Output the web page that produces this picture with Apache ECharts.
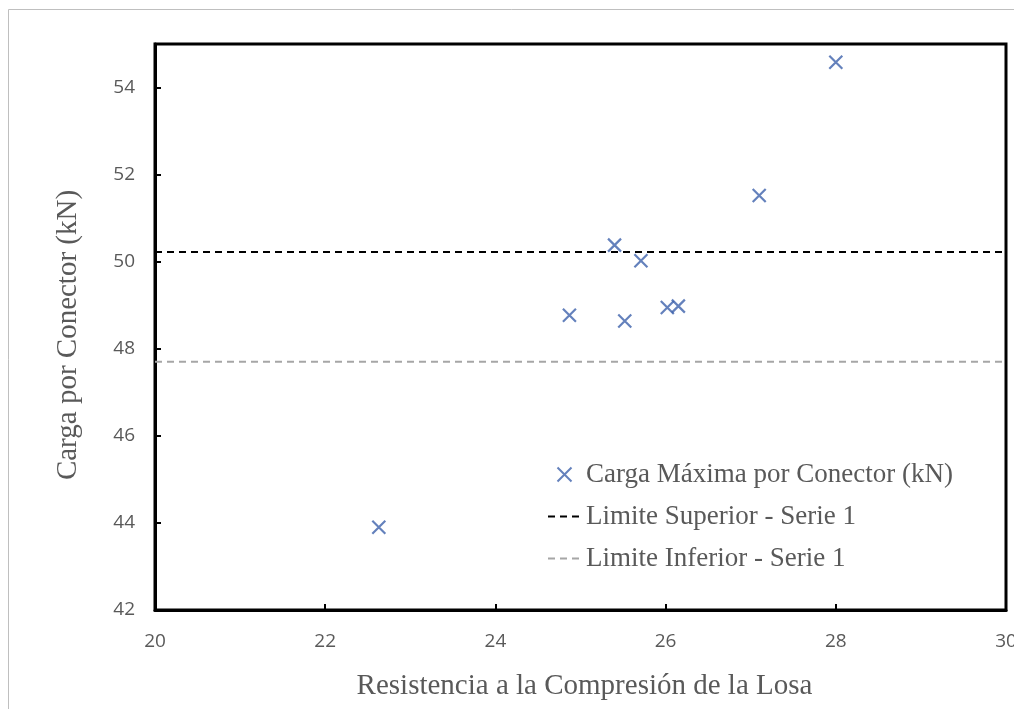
<!DOCTYPE html>
<html>
<head>
<meta charset="utf-8">
<script src="https://cdn.jsdelivr.net/npm/echarts@6/dist/echarts.min.js"></script>
<style>
  html, body { margin: 0; padding: 0; background: #fff; }
  #chart { width: 1014px; height: 709px; }
</style>
</head>
<body>
<div id="chart"></div>
<script>
// Slab compressive strength vs. max load per connector
const resistencia = [22.63, 24.87, 25.40, 25.52, 25.71, 26.02, 26.15, 27.10, 28.00];
const cargaMax    = [43.90, 48.77, 50.38, 48.64, 50.02, 48.95, 48.98, 51.52, 54.58];
const limiteSuperior = 50.22;
const limiteInferior = 47.70;
const xRange = [20, 30];
const yRange = [42, 55];

const serieNames = [
  'Carga Máxima por Conector (kN)',
  'Limite Superior - Serie 1',
  'Limite Inferior - Serie 1'
];

const points = resistencia.map((x, i) => [x, cargaMax[i]]);
const crossPath = 'path://M0,0L10,10M10,0L0,10';
const markerColor = '#3D61AB';
const hidden = 'rgba(0,0,0,0)';
const tickFont = { color: '#595959', fontSize: 19, fontFamily: 'Open Sans, Liberation Sans, sans-serif' };
const serifFont = 'Liberation Serif, Times New Roman, serif';

const chart = echarts.init(document.getElementById('chart'));
chart.setOption({
  animation: false,
  backgroundColor: '#fff',
  graphic: [{
    type: 'rect',
    shape: { x: 8.5, y: 9.5, width: 1020, height: 720 },
    style: { fill: 'none', stroke: '#BFBFBF', lineWidth: 1 },
    silent: true
  }],
  grid: {
    left: 155, right: 8, top: 44, bottom: 99,
    outerBoundsMode: 'none',
    containLabel: false,
    show: true, borderColor: '#000', borderWidth: 3
  },
  legend: {
    orient: 'vertical',
    left: 542, top: 456,
    itemGap: 15,
    itemWidth: 33, itemHeight: 14,
    textStyle: { color: '#595959', fontSize: 27, fontFamily: serifFont },
    data: [
      { name: serieNames[0], icon: crossPath, itemStyle: { color: 'none', borderColor: markerColor, borderWidth: 2 } },
      { name: serieNames[1], itemStyle: { color: hidden, borderColor: hidden } },
      { name: serieNames[2], itemStyle: { color: hidden, borderColor: hidden } }
    ]
  },
  xAxis: {
    type: 'value', min: xRange[0], max: xRange[1], interval: 2,
    name: 'Resistencia a la Compresión de la Losa',
    nameLocation: 'middle', nameGap: 62,
    nameTextStyle: { color: '#595959', fontSize: 29, fontFamily: serifFont, padding: [0, 0, 0, 8] },
    axisLine: { show: true, lineStyle: { color: '#000', width: 3 } },
    axisTick: { show: true, inside: true, length: 6, lineStyle: { color: '#000', width: 2 } },
    axisLabel: Object.assign({ margin: 22 }, tickFont),
    splitLine: { show: false }
  },
  yAxis: {
    type: 'value', min: yRange[0], max: yRange[1], interval: 2,
    name: 'Carga por Conector (kN)',
    nameLocation: 'middle', nameGap: 72,
    nameTextStyle: { color: '#595959', fontSize: 29, fontFamily: serifFont, padding: [0, 16, 0, 0] },
    axisLine: { show: true, lineStyle: { color: '#000', width: 3 } },
    axisTick: { show: true, inside: true, length: 6, lineStyle: { color: '#000', width: 2 } },
    axisLabel: Object.assign({ margin: 20, showMaxLabel: false }, tickFont),
    splitLine: { show: false }
  },
  series: [
    {
      name: serieNames[0],
      type: 'scatter',
      data: points,
      symbol: crossPath,
      symbolSize: 13,
      itemStyle: { color: 'none', borderColor: markerColor, borderWidth: 2.2 },
      z: 5
    },
    {
      name: serieNames[1],
      type: 'line',
      data: [[xRange[0], limiteSuperior], [xRange[1], limiteSuperior]],
      symbol: 'none',
      lineStyle: { color: '#000', width: 2, type: [7, 5] },
      itemStyle: { color: hidden }
    },
    {
      name: serieNames[2],
      type: 'line',
      data: [[xRange[0], limiteInferior], [xRange[1], limiteInferior]],
      symbol: 'none',
      lineStyle: { color: '#A6A6A6', width: 2, type: [7, 5] },
      itemStyle: { color: hidden }
    }
  ]
});
</script>
</body>
</html>
